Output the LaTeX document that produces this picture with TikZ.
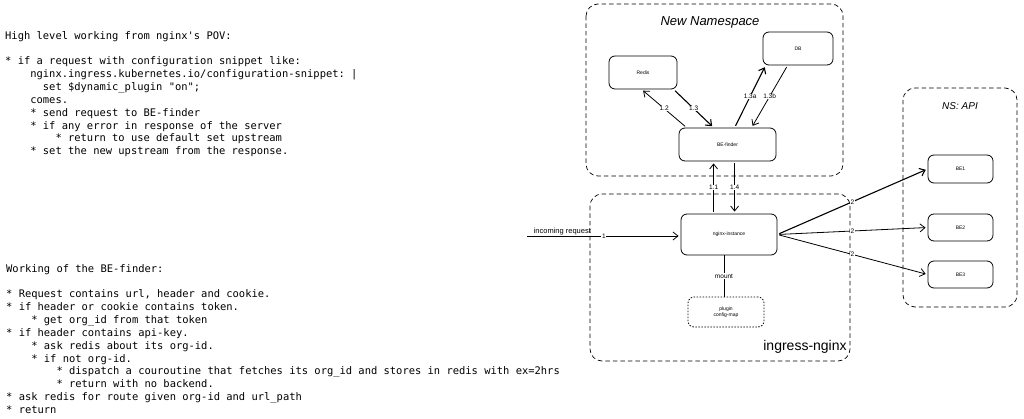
\documentclass[tikz,border=0pt]{standalone}
\usepackage{fontspec}
\setmainfont{Liberation Sans}
\setmonofont{DejaVu Sans Mono}
\usetikzlibrary{arrows.meta,positioning}

% indent by n characters of the mono font
\newcommand\pad[1]{\hspace*{#1\fontcharwd\font`\ }}

\tikzset{
  box/.style={draw, line width=0.8pt, rounded corners=6pt, inner sep=0pt,
    font=\fontsize{5}{6}\selectfont},
  grp/.style={draw, line width=0.7pt, rounded corners=12pt, dash pattern=on 4.5pt off 3pt},
  arr/.style={-{Straight Barb[length=5pt,width=8pt]}, line width=0.8pt,
    shorten <=2pt, shorten >=2pt},
  lbl/.style={fill=white, inner sep=0.6pt, font=\fontsize{6.5}{7}\selectfont},
  notes/.style={anchor=north west, inner sep=0pt, align=left,
    font=\fontsize{10.45}{12.85}\ttfamily},
  grptitle/.style={font=\itshape\fontsize{13}{15}\selectfont},
}

\begin{document}
\begin{tikzpicture}[x=1pt,y=-1pt]
  \useasboundingbox (0,0) rectangle (1024,419);

  % Notes on the left
  \node[notes] (povnotes) at (5,31) {%
    High level working from nginx's POV:\\
    ~\\
    * if a request with configuration snippet like:\\
    \pad{4}nginx.ingress.kubernetes.io/configuration-snippet: |\\
    \pad{6}set \$dynamic\_plugin "on";\\
    \pad{4}comes.\\
    \pad{4}* send request to BE-finder\\
    \pad{4}* if any error in response of the server\\
    \pad{8}* return to use default set upstream\\
    \pad{4}* set the new upstream from the response.};

  \node[notes] (findernotes) at (6,264) {%
    Working of the BE-finder:\\
    ~\\
    * Request contains url, header and cookie.\\
    * if header or cookie contains token.\\
    \pad{4}* get org\_id from that token\\
    * if header contains api-key.\\
    \pad{4}* ask redis about its org-id.\\
    \pad{4}* if not org-id.\\
    \pad{8}* dispatch a couroutine that fetches its org\_id and stores in redis with ex=2hrs\\
    \pad{8}* return with no backend.\\
    * ask redis for route given org-id and url\_path\\
    * return};

  % Group frames
  \draw[grp] (586,4) rectangle (843,176);
  \node[grptitle] (nstitle) at (710,22) {New Namespace};
  \draw[grp] (590,194) rectangle (850,361);
  \node[grptitle, font=\fontsize{14}{16}\selectfont] (ingtitle) at (805,347) {ingress-nginx};
  \draw[grp] (903,88) rectangle (1017,307);
  \node[grptitle, font=\itshape\fontsize{10}{12}\selectfont] (apititle) at (960,106) {NS: API};

  % Boxes
  \node[box, minimum width=68pt, minimum height=33pt] (redis) at (643,72.5) {Redis};
  \node[box, minimum width=70pt, minimum height=33pt] (db) at (798,48.5) {DB};
  \node[box, minimum width=97pt, minimum height=33pt] (finder) at (727.5,144.5) {BE-finder};
  \node[box, minimum width=96pt, minimum height=41pt] (nginx) at (729,234.5) {nginx-instance};
  \node[box, minimum width=76pt, minimum height=30pt, dash pattern=on 1.5pt off 1.5pt,
    align=center] (plugin) at (726,312) {plugin\\config-map};
  \node[box, minimum width=65pt, minimum height=28pt] (be1) at (960.5,169) {BE1};
  \node[box, minimum width=65pt, minimum height=27pt] (be2) at (960.5,227.5) {BE2};
  \node[box, minimum width=65pt, minimum height=27pt] (be3) at (960.5,274.5) {BE3};

  % Incoming request
  \coordinate (client) at (527,236);
  \draw[arr, shorten <=0pt] (client) -- (nginx.west |- client)
    node[lbl, midway] {1}
    node[pos=0.23, above=0pt, inner sep=1pt, font=\fontsize{7.5}{8}\selectfont] {incoming request};

  % BE-finder <-> nginx
  \draw[arr] ([xshift=33pt]nginx.north west) -- ([xshift=35pt]finder.south west)
    node[lbl, midway] {1.1};
  \draw[arr] ([xshift=56pt]finder.south west) -- ([xshift=54pt]nginx.north west)
    node[lbl, midway] {1.4};

  % BE-finder <-> Redis
  \draw[arr] ([xshift=8pt]finder.north west) -- ([xshift=33pt]redis.south west)
    node[lbl, midway] {1.2};
  \draw[arr, line width=1.1pt] ([xshift=65pt]redis.south west) -- ([xshift=35pt]finder.north west)
    node[lbl, midway] {1.3};

  % BE-finder <-> DB
  \draw[arr, line width=1.1pt] ([xshift=56pt]finder.north west) -- ([xshift=3pt]db.south west)
    node[lbl, midway] {1.3a};
  \draw[arr] ([xshift=25pt]db.south west) -- ([xshift=73pt]finder.north west)
    node[lbl, midway] {1.3b};

  % plugin mount
  \draw[line width=0.8pt] ([xshift=-5pt]nginx.south) -- ([xshift=-5pt]nginx.south |- plugin.north)
    node[lbl, midway] {mount};

  % nginx -> backends
  \draw[arr, line width=1.1pt] (nginx.east) -- (be1.west) node[lbl, midway] {2};
  \draw[arr] (nginx.east) -- (be2.west) node[lbl, midway] {2};
  \draw[arr] (nginx.east) -- (be3.west) node[lbl, midway] {2};
\end{tikzpicture}
\end{document}
